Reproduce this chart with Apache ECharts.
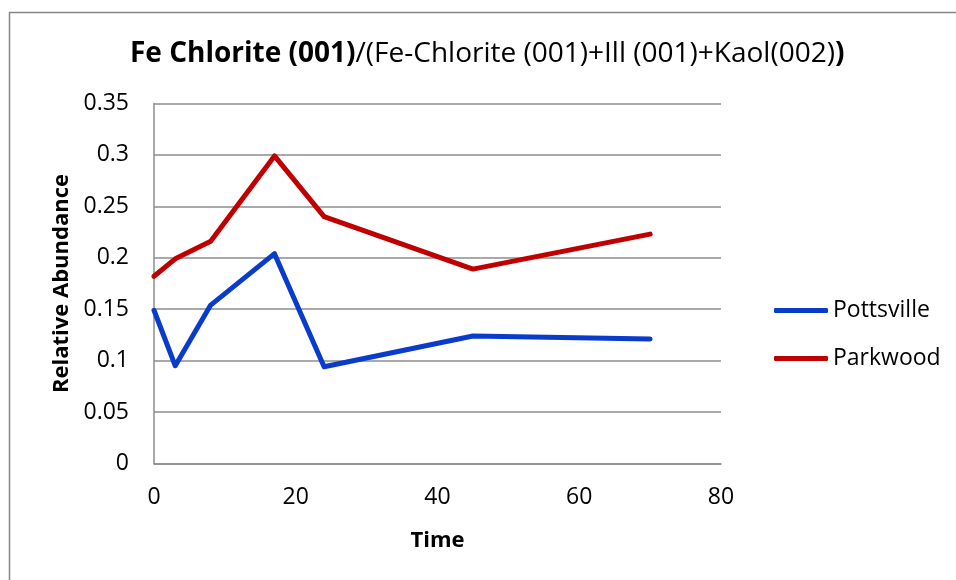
<!DOCTYPE html>
<html>
<head>
<meta charset="utf-8">
<script src="https://cdn.jsdelivr.net/npm/echarts@6/dist/echarts.min.js"></script>
<style>
  html, body { margin: 0; padding: 0; background: #fff; }
  #chart { width: 956px; height: 580px; }
</style>
</head>
<body>
<div id="chart"></div>
<script>
// Sampling times and relative abundance ratios
const times = [0, 3, 8, 17, 24, 45, 70];
const pottsville = [0.149, 0.095, 0.154, 0.204, 0.094, 0.124, 0.121];
const parkwood = [0.182, 0.199, 0.216, 0.299, 0.240, 0.189, 0.223];
const seriesNames = ['Pottsville', 'Parkwood'];
const seriesColors = ['#0a3ccc', '#c00000'];

const FONT = '"Open Sans", sans-serif';
const GRID_COLOR = '#8c8c8c';

const pairs = (xs, ys) => xs.map((x, i) => [x, ys[i]]);

const chart = echarts.init(document.getElementById('chart'), null, { renderer: 'canvas' });

chart.setOption({
  animation: false,
  backgroundColor: '#ffffff',
  title: {
    text: '{b|Fe Chlorite (001)}{n|/(Fe-Chlorite (001)+Ill (001)+Kaol(002)}{b|)}',
    left: 125,
    top: 35,
    textStyle: {
      rich: {
        b: { fontFamily: FONT, fontWeight: 'bold', fontSize: 28, color: '#000' },
        n: { fontFamily: FONT, fontWeight: 'normal', fontSize: 28, color: '#000' }
      }
    }
  },
  legend: {
    orient: 'vertical',
    left: 769,
    top: 292,
    itemWidth: 54,
    itemHeight: 5,
    itemGap: 21,
    icon: 'roundRect',
    data: seriesNames,
    textStyle: { fontFamily: FONT, fontSize: 23, color: '#000', lineHeight: 27 }
  },
  grid: {
    left: 154,
    right: 235,
    top: 103.5,
    bottom: 116.5,
    containLabel: false
  },
  xAxis: {
    type: 'value',
    min: 0,
    max: 80,
    interval: 20,
    name: 'Time',
    nameLocation: 'middle',
    nameGap: 66,
    nameTextStyle: { fontFamily: FONT, fontWeight: 'bold', fontSize: 22, color: '#000' },
    axisLine: { show: true, lineStyle: { color: GRID_COLOR, width: 1.5 } },
    axisTick: { show: false },
    splitLine: { show: false },
    axisLabel: { margin: 22, fontFamily: FONT, fontSize: 23, color: '#000' }
  },
  yAxis: {
    type: 'value',
    min: 0,
    max: 0.35,
    interval: 0.05,
    name: 'Relative Abundance',
    nameLocation: 'middle',
    nameGap: 80,
    nameTextStyle: { fontFamily: FONT, fontWeight: 'bold', fontSize: 22, color: '#000' },
    axisLine: { show: true, lineStyle: { color: GRID_COLOR, width: 1.5 } },
    axisTick: { show: false },
    splitLine: { show: true, lineStyle: { color: GRID_COLOR, width: 1.5 } },
    axisLabel: { margin: 25, fontFamily: FONT, fontSize: 23, color: '#000' }
  },
  graphic: [{
    type: 'rect',
    shape: { x: 9.5, y: 12.5, width: 2000, height: 2000 },
    style: { fill: 'none', stroke: '#868686', lineWidth: 1.5 },
    silent: true
  }],
  series: [
    {
      name: seriesNames[0],
      type: 'line',
      data: pairs(times, pottsville),
      showSymbol: false,
      symbol: 'none',
      color: seriesColors[0],
      lineStyle: { width: 5, color: seriesColors[0], join: 'round', cap: 'round' }
    },
    {
      name: seriesNames[1],
      type: 'line',
      data: pairs(times, parkwood),
      showSymbol: false,
      symbol: 'none',
      color: seriesColors[1],
      lineStyle: { width: 5, color: seriesColors[1], join: 'round', cap: 'round' }
    }
  ]
});
</script>
</body>
</html>
